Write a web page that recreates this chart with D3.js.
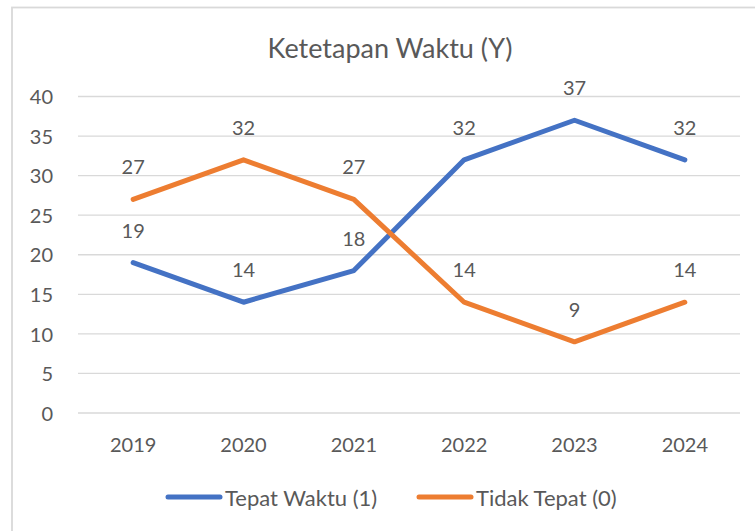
<!DOCTYPE html>
<html lang="en">
<head>
    <meta charset="UTF-8">
    <title>Ketetapan Waktu (Y)</title>
    <script src="https://cdn.jsdelivr.net/npm/d3@7"></script>
    <style>
        body { margin: 0; background: #fff; }
        text { font-family: Lato, "Open Sans", sans-serif; fill: #595959; }
    </style>
</head>
<body>
<script>
    const years = ['2019', '2020', '2021', '2022', '2023', '2024']
    const tepatWaktu = [19, 14, 18, 32, 37, 32]
    const tidakTepat = [27, 32, 27, 14, 9, 14]
    const yTicks = [0, 5, 10, 15, 20, 25, 30, 35, 40]

    const series = [
        {name: 'Tepat Waktu (1)', values: tepatWaktu, color: '#4472C4'},
        {name: 'Tidak Tepat (0)', values: tidakTepat, color: '#ED7D31'}
    ]

    const [width, height] = [755, 531]
    const plot = {left: 78, right: 740, top: 96.5, bottom: 413}

    const x = d3.scaleBand().domain(years).range([plot.left, plot.right])
    const y = d3.scaleLinear().domain([0, 40]).range([plot.bottom, plot.top])

    const svg = d3.select('body').append('svg')
        .attr('width', width)
        .attr('height', height)

    // chart border, cut off at right and bottom like the source
    svg.append('rect')
        .attr('x', 12).attr('y', 7.5)
        .attr('width', 780).attr('height', 560)
        .attr('fill', 'none').attr('stroke', '#d9d9d9').attr('stroke-width', 1.8)

    svg.append('text')
        .attr('x', 390).attr('y', 58)
        .attr('text-anchor', 'middle')
        .style('font-size', '27px')
        .text('Ketetapan Waktu (Y)')

    // gridlines
    svg.selectAll('line.grid').data(yTicks)
        .enter().append('line').attr('class', 'grid')
        .attr('x1', plot.left).attr('x2', plot.right)
        .attr('y1', d => y(d)).attr('y2', d => y(d))
        .attr('stroke', '#d9d9d9').attr('stroke-width', 1.3)

    // y axis labels
    const yAxis = d3.axisLeft(y).tickValues(yTicks).tickSize(0).tickPadding(0)
    const gy = svg.append('g').attr('transform', 'translate(53,0)').call(yAxis)
    gy.select('.domain').remove()
    gy.selectAll('text').style('font-size', '20px').attr('fill', '#595959')
        .attr('font-family', 'Lato, sans-serif').attr('dy', '0.36em')

    // x axis labels
    const xAxis = d3.axisBottom(x).tickSize(0).tickPadding(0)
    const gx = svg.append('g').attr('transform', 'translate(0,452)').call(xAxis)
    gx.select('.domain').remove()
    gx.selectAll('text').style('font-size', '20px').attr('fill', '#595959')
        .attr('font-family', 'Lato, sans-serif').attr('dy', 0)

    const line = d3.line()
        .x((d, i) => x(years[i]) + x.bandwidth() / 2)
        .y(d => y(d))

    svg.selectAll('path.line').data(series)
        .enter().append('path').attr('class', 'line')
        .attr('d', d => line(d.values))
        .attr('fill', 'none')
        .attr('stroke', d => d.color)
        .attr('stroke-width', 5)
        .attr('stroke-linecap', 'round')
        .attr('stroke-linejoin', 'round')

    // data labels
    series.forEach(s => {
        svg.selectAll(null).data(s.values)
            .enter().append('text')
            .attr('x', (d, i) => x(years[i]) + x.bandwidth() / 2)
            .attr('y', d => y(d) - 25)
            .attr('text-anchor', 'middle')
            .style('font-size', '20px')
            .text(d => d)
    })

    // legend
    const legendX = [168, 419]
    const legend = svg.selectAll('g.legend').data(series)
        .enter().append('g').attr('class', 'legend')
        .attr('transform', (d, i) => `translate(${legendX[i]},497)`)
    legend.append('line')
        .attr('x1', 0).attr('x2', 52)
        .attr('stroke', d => d.color).attr('stroke-width', 5)
        .attr('stroke-linecap', 'round')
    legend.append('text')
        .attr('x', 57).attr('y', 9)
        .style('font-size', '22px')
        .text(d => d.name)
</script>
</body>
</html>
